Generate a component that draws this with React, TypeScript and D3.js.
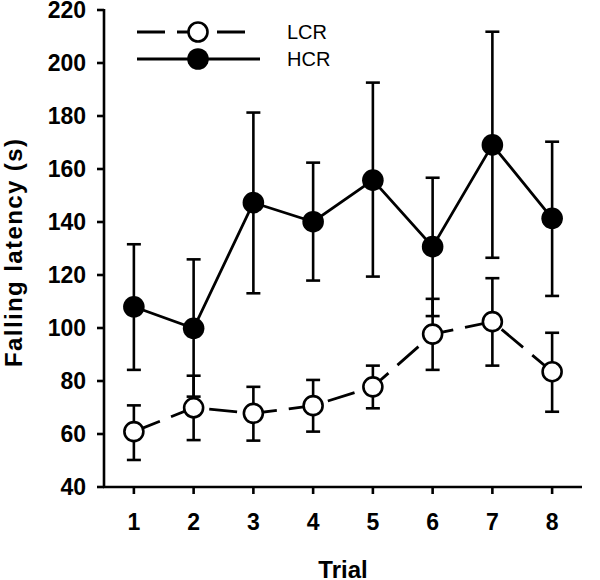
import React from "react";
import * as d3 from "d3";

const trials = [1, 2, 3, 4, 5, 6, 7, 8];
const lcrMean = [60.9, 69.9, 67.8, 70.7, 77.8, 97.7, 102.4, 83.5];
const lcrUpper = [70.8, 82.0, 77.8, 80.4, 85.8, 111.0, 118.8, 98.2];
const lcrLower = [50.2, 57.7, 57.5, 60.9, 69.7, 84.2, 85.8, 68.4];
const hcrMean = [108.0, 99.9, 147.3, 140.1, 155.8, 130.7, 169.1, 141.4];
const hcrUpper = [131.6, 125.9, 181.3, 162.4, 192.6, 156.7, 211.8, 170.3];
const hcrLower = [84.2, 74.1, 113.1, 117.9, 119.4, 104.5, 126.5, 112.1];
const yTicks = [40, 60, 80, 100, 120, 140, 160, 180, 200, 220];
const seriesNames = ["LCR", "HCR"];

const FONT = "'Liberation Sans', Arial, sans-serif";

export default function App() {
  const W = 600;
  const H = 580;
  const x = d3.scaleLinear().domain([0.5, 8.5]).range([104, 582]);
  const y = d3.scaleLinear().domain([40, 220]).range([487, 10]);
  const line = d3
    .line<number>()
    .x((_, i) => x(trials[i]))
    .y((d) => y(d));
  const capW = 7;
  const sw = 2.6;

  const errorBars = (up: number[], lo: number[], key: string) =>
    trials.map((t, i) => (
      <g key={key + i} stroke="#000" strokeWidth={sw} fill="none">
        <line x1={x(t)} x2={x(t)} y1={y(up[i])} y2={y(lo[i])} />
        <line x1={x(t) - capW} x2={x(t) + capW} y1={y(up[i])} y2={y(up[i])} />
        <line x1={x(t) - capW} x2={x(t) + capW} y1={y(lo[i])} y2={y(lo[i])} />
      </g>
    ));

  return (
    <svg
      width={W}
      height={H}
      style={{ position: "absolute", left: 0, top: 0, background: "#fff" }}
    >
      <rect width={W} height={H} fill="#fff" />
      {/* axes */}
      <line x1={104} x2={104} y1={y(220) - 1} y2={y(40)} stroke="#000" strokeWidth={sw} />
      <line x1={104 - 1} x2={x(8.5)} y1={y(40)} y2={y(40)} stroke="#000" strokeWidth={sw} />
      {yTicks.map((v) => (
        <g key={"yt" + v}>
          <line x1={97} x2={104} y1={y(v)} y2={y(v)} stroke="#000" strokeWidth={sw} />
          <text
            x={86}
            y={y(v)}
            dy="0.36em"
            textAnchor="end"
            fontFamily={FONT}
            fontWeight="bold"
            fontSize={23}
          >
            {v}
          </text>
        </g>
      ))}
      {trials.map((t) => (
        <g key={"xt" + t}>
          <line x1={x(t)} x2={x(t)} y1={y(40)} y2={y(40) + 7} stroke="#000" strokeWidth={sw} />
          <text
            x={x(t)}
            y={530}
            textAnchor="middle"
            fontFamily={FONT}
            fontWeight="bold"
            fontSize={23}
          >
            {t}
          </text>
        </g>
      ))}
      <text
        x={343}
        y={578}
        textAnchor="middle"
        fontFamily={FONT}
        fontWeight="bold"
        fontSize={24}
      >
        Trial
      </text>
      <text
        transform={`translate(22,253) rotate(-90)`}
        textAnchor="middle"
        fontFamily={FONT}
        fontWeight="bold"
        fontSize={24}
        textLength={228}
        lengthAdjust="spacing"
      >
        Falling latency (s)
      </text>

      {/* error bars */}
      {errorBars(hcrUpper, hcrLower, "h")}
      {errorBars(lcrUpper, lcrLower, "l")}

      {/* lines */}
      <path d={line(hcrMean) || ""} fill="none" stroke="#000" strokeWidth={2.8} />
      <path
        d={line(lcrMean) || ""}
        fill="none"
        stroke="#000"
        strokeWidth={2.8}
        strokeDasharray="28 12"
      />

      {/* markers */}
      {lcrMean.map((v, i) => (
        <circle key={"lm" + i} cx={x(trials[i])} cy={y(v)} r={9.5} fill="#fff" stroke="#000" strokeWidth={2.6} />
      ))}
      {hcrMean.map((v, i) => (
        <circle key={"hm" + i} cx={x(trials[i])} cy={y(v)} r={10.8} fill="#000" />
      ))}

      {/* legend */}
      <line x1={137} x2={247} y1={32} y2={32} stroke="#000" strokeWidth={2.8} strokeDasharray="28 12" />
      <circle cx={198} cy={32} r={9.5} fill="#fff" stroke="#000" strokeWidth={2.6} />
      <text x={287} y={32} dy="0.36em" fontFamily={FONT} fontSize={20}>
        {seriesNames[0]}
      </text>
      <line x1={137} x2={260} y1={59} y2={59} stroke="#000" strokeWidth={2.8} />
      <circle cx={198} cy={59} r={10.8} fill="#000" />
      <text x={287} y={59} dy="0.36em" fontFamily={FONT} fontSize={20}>
        {seriesNames[1]}
      </text>
    </svg>
  );
}
